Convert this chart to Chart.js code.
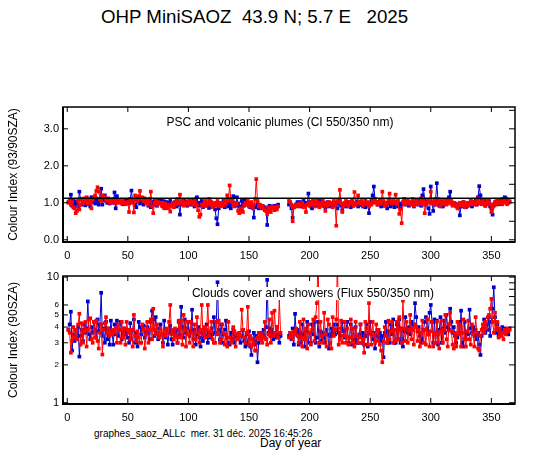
<!DOCTYPE html>
<html>
<head>
<meta charset="utf-8">
<script src="https://cdn.jsdelivr.net/npm/chart.js@4.4.1/dist/chart.umd.min.js"></script>
<style>
body { margin: 0; width: 547px; height: 455px; background: #fff; position: relative; overflow: hidden;
       font-family: "Liberation Sans", Arial, sans-serif; }
.txt { position: absolute; white-space: pre; color: #000; line-height: normal; }
.box { position: absolute; left: 0; width: 547px; }
</style>
</head>
<body>
<div class="txt" style="left:101px;top:6px;font-size:18.7px;">OHP MiniSAOZ  43.9 N; 5.7 E   2025</div>
<div class="box" style="top:95px;height:167px;"><canvas id="ciChart"></canvas></div>
<div class="box" style="top:264px;height:160px;"><canvas id="fluxChart"></canvas></div>
<div class="txt" style="left:94px;top:428px;font-size:10px;">graphes_saoz_ALLc  mer. 31 déc. 2025 16:45:26</div>
<div class="txt" style="left:260px;top:436px;font-size:12px;">Day of year</div>
<script>
// colour index 93/90 SZA, one value per day (null = no measurement)
var ciBlue = [
1.02,1.08,1.22,0.92,1.05,0.88,0.98,1.04,0.90,1.30,
1.10,0.95,1.02,1.08,0.93,1.12,0.97,1.05,0.90,1.15,
1.02,1.08,0.98,1.12,1.05,0.95,1.10,1.38,0.95,1.08,
1.20,1.05,1.00,1.10,0.98,1.04,1.08,1.00,1.28,0.85,
1.18,1.05,1.08,1.02,1.00,0.96,1.04,1.08,1.00,1.06,
0.98,1.10,1.33,1.02,1.08,0.95,0.88,1.04,1.10,0.98,
1.05,1.12,0.95,1.08,1.00,1.06,0.92,1.10,0.88,1.02,
0.95,1.05,1.00,0.92,1.06,1.02,0.98,1.08,0.90,1.04,
0.96,1.02,0.90,0.98,1.05,0.92,1.00,0.95,1.02,0.90,
1.05,0.95,0.68,1.02,0.96,1.08,0.98,1.04,0.92,1.00,
1.06,0.95,1.02,1.08,0.90,1.10,1.15,1.00,0.92,0.98,
1.05,0.88,0.95,1.02,0.92,0.98,0.86,1.04,0.95,0.90,
0.96,0.82,0.58,0.42,0.85,0.95,1.00,0.92,1.05,0.88,
0.96,1.02,0.90,1.00,0.85,0.95,1.18,1.00,0.92,1.15,
0.98,0.90,0.85,1.05,0.92,1.08,1.05,0.95,1.00,0.92,
0.88,0.98,0.95,0.60,0.92,0.88,1.00,0.85,0.92,0.88,
0.85,0.90,0.86,0.82,0.40,0.88,0.92,0.85,0.90,0.88,
0.92,0.86,0.90,0.95,
null,null,null,null,null,null,null,null,
0.95,1.00,0.85,0.60,0.88,0.92,0.96,1.02,
0.95,1.02,0.90,0.98,1.05,0.92,1.00,0.95,1.25,1.02,
0.90,0.85,1.08,0.95,1.00,0.92,1.08,0.95,0.98,1.05,
0.92,1.00,0.88,0.96,1.02,0.90,0.98,0.94,1.00,0.92,
0.96,1.00,0.85,0.98,1.05,0.92,0.80,0.95,1.00,0.90,
0.96,1.02,0.94,0.88,1.00,0.92,0.98,0.95,1.04,0.90,
0.98,1.02,0.94,0.90,1.00,0.88,0.96,1.00,0.72,0.96,
1.05,1.20,1.44,1.10,1.02,0.95,1.00,1.08,0.90,0.98,
0.92,1.00,0.95,0.85,0.98,1.05,0.90,0.96,1.00,0.88,
0.95,1.02,0.90,0.98,0.85,0.96,1.00,1.10,0.95,0.98,
1.04,0.92,1.00,0.96,1.02,0.90,0.98,1.06,0.95,1.00,
1.05,0.92,1.20,1.37,1.08,0.95,1.02,0.85,0.70,1.44,
1.00,0.78,0.95,1.10,1.53,1.05,0.92,0.98,1.02,0.90,
0.96,1.05,1.00,1.08,1.15,1.30,1.02,0.95,1.00,0.98,
0.92,0.96,0.88,0.66,0.90,0.98,1.02,0.95,0.88,0.92,
1.00,0.96,1.05,0.90,0.98,1.02,1.08,0.95,1.15,1.45,
1.20,1.05,0.98,1.08,0.92,1.00,0.96,1.05,0.90,0.85,
0.68,0.92,1.00,1.04,0.98,1.08,0.96,1.02,1.10,1.06,
1.15,1.12,1.05,1.00,1.04
];
var ciRed = [
1.00,1.05,0.95,1.02,0.88,0.85,0.72,0.78,1.05,0.82,
0.95,1.08,1.00,1.12,1.05,1.15,0.98,1.10,1.02,0.85,
1.08,1.15,1.20,1.32,1.42,1.30,1.10,1.05,1.20,1.18,
1.15,1.08,1.05,1.12,1.00,1.08,1.02,1.10,1.05,0.98,
1.05,1.00,1.08,1.02,0.98,1.05,1.00,0.96,0.98,1.02,
0.75,1.05,1.00,1.08,0.74,1.20,1.15,1.05,1.18,1.32,
1.10,1.15,1.05,1.12,1.00,1.08,0.95,1.02,1.30,0.90,
0.72,1.00,1.05,0.95,1.02,0.98,1.00,0.92,1.00,0.85,
0.98,0.90,0.85,0.95,0.76,0.92,1.00,0.88,0.95,1.05,
1.10,0.98,1.22,1.00,1.05,0.92,0.98,1.02,0.95,1.00,
1.08,0.98,1.02,0.95,1.05,1.00,0.92,0.80,0.62,0.68,
0.95,0.90,0.98,1.05,0.92,1.00,1.10,0.95,1.02,0.88,
0.95,1.00,0.92,1.05,0.98,0.90,1.00,0.96,0.92,1.05,
0.98,1.20,1.05,1.47,1.10,1.02,0.95,0.90,1.00,0.98,
0.78,0.72,0.85,0.80,0.75,0.92,1.00,0.95,1.05,0.90,
0.98,1.02,0.85,0.95,1.10,1.64,1.05,0.90,0.95,0.88,
0.92,0.85,0.80,0.78,0.70,0.88,0.82,0.75,0.90,0.86,
0.80,0.88,0.82,0.90,
null,null,null,null,null,null,null,null,
1.05,1.02,0.95,0.50,0.88,0.92,0.95,0.90,
0.98,0.92,0.95,1.00,0.88,0.92,0.75,0.95,1.00,0.92,
1.02,0.96,1.08,0.90,0.98,1.05,0.95,0.88,1.00,0.92,
1.05,0.96,0.78,1.00,0.92,1.02,0.96,1.00,0.88,1.05,
0.95,0.38,1.05,1.02,1.35,0.98,0.75,0.92,1.00,1.05,
0.95,0.90,1.02,0.98,1.08,0.92,1.29,1.00,0.95,1.20,
1.02,0.98,1.05,0.92,1.00,1.08,0.96,1.02,0.90,1.00,
0.95,1.05,1.00,1.08,1.02,0.95,1.00,1.05,0.98,1.30,
1.05,0.92,1.00,0.96,1.08,1.25,1.02,0.98,1.05,1.00,
1.22,0.96,1.05,0.70,0.82,0.45,1.02,1.08,0.96,1.00,
1.05,0.98,1.02,0.95,1.10,0.92,1.00,1.05,0.96,1.02,
1.00,1.12,0.96,1.05,0.72,0.95,1.02,1.08,1.00,1.30,
1.02,0.96,1.08,1.00,0.95,1.10,1.02,0.90,1.05,0.96,
1.00,1.08,0.95,1.02,1.10,0.98,1.05,0.92,1.00,0.96,
0.90,0.85,0.95,1.00,0.92,0.96,1.02,0.88,0.95,1.00,
0.92,0.98,1.05,0.96,1.02,1.00,0.95,1.05,1.12,0.98,
1.02,0.96,1.05,1.00,0.92,0.98,1.05,1.00,0.96,0.75,
0.88,0.96,1.02,0.95,1.05,1.00,0.98,1.04,0.96,1.02,
1.08,1.00,0.96,1.05,1.02
];
// flux ratio 550/350 nm at 90 SZA
var fluxBlue = [
3.8,4.2,5.3,2.6,3.5,3.1,3.8,3.2,4.0,2.33,
3.4,3.8,3.1,4.2,3.6,3.9,6.4,3.5,3.2,4.0,
3.6,4.4,3.8,3.3,4.6,3.7,4.2,7.5,3.4,3.9,
3.0,4.4,3.2,3.9,2.9,4.5,3.6,2.9,4.2,3.5,
4.5,3.4,3.8,4.4,3.2,3.6,3.9,3.5,3.7,3.3,
3.0,4.3,3.2,3.8,4.6,3.0,3.6,2.8,4.4,4.0,
3.5,3.8,4.1,3.3,3.7,4.0,3.6,3.2,4.4,5.4,
4.6,3.4,4.8,3.6,3.2,3.9,4.2,3.5,3.0,4.5,
3.3,3.8,2.9,3.6,4.1,3.2,2.9,3.7,3.4,3.8,
3.0,4.4,3.5,5.8,4.0,3.3,4.6,3.6,3.9,4.4,
3.4,3.7,5.5,3.2,3.8,2.9,3.5,4.0,3.3,2.8,
3.6,3.1,3.8,3.4,4.2,3.0,3.6,3.3,3.9,3.5,
4.8,3.6,4.4,9.1,3.8,3.2,4.2,3.0,3.5,3.8,
4.5,3.3,3.0,2.9,3.6,3.2,3.8,3.0,3.4,3.5,
3.2,3.6,3.0,3.4,3.8,3.1,2.8,3.5,2.9,3.7,
2.8,2.4,3.2,3.6,2.9,3.4,2.1,3.0,3.6,3.2,
3.5,3.8,3.3,4.0,9.5,3.6,3.9,3.4,3.8,3.2,
3.6,3.3,4.0,3.5,3.0,3.4,
null,null,null,null,null,null,
3.4,3.6,3.2,3.9,2.9,5.1,3.5,3.8,
2.9,3.6,3.0,4.2,3.5,2.8,3.7,4.4,3.0,3.6,
3.0,4.2,3.5,4.4,3.0,3.3,4.4,2.8,3.7,3.1,
3.6,3.3,3.0,3.8,3.5,2.7,3.4,3.9,3.6,4.2,
3.5,3.8,4.2,3.6,3.4,3.9,4.4,3.7,3.3,3.8,
4.4,3.0,3.3,4.2,2.9,3.9,3.2,4.0,3.0,3.0,
3.5,4.2,3.0,3.6,2.9,3.4,4.2,2.8,3.6,4.4,
3.5,3.2,3.6,2.7,3.4,3.8,3.3,3.6,3.1,3.4,
2.3,3.6,4.4,3.0,3.7,3.0,4.2,3.5,4.6,3.0,
3.0,4.2,3.2,4.6,3.0,3.9,2.8,3.7,4.8,3.8,
3.6,4.0,3.5,4.4,3.8,4.2,6.2,4.8,3.7,4.0,
3.4,3.0,3.2,3.8,4.4,4.8,3.9,3.5,5.2,6.0,
4.4,3.0,4.6,3.0,4.5,2.9,3.8,4.8,3.0,3.9,
4.5,3.6,5.0,4.0,3.8,5.6,4.4,3.6,4.0,3.4,
3.0,3.3,4.4,3.6,5.4,3.0,2.8,4.4,3.2,3.6,
3.5,5.5,3.9,3.6,4.0,3.4,3.8,3.2,3.6,2.9,
2.4,3.4,3.9,4.6,3.6,4.2,3.8,4.8,3.4,4.4,
5.6,8.3,4.8,3.6,4.2,3.4,3.8,3.6,4.0,3.7,
3.9,3.6,3.8,3.5,3.9
];
var fluxRed = [
3.8,3.6,2.5,3.1,4.0,3.3,3.8,3.2,4.2,5.1,
2.9,4.3,3.0,3.7,4.4,2.8,3.8,4.6,4.7,3.2,
3.0,4.4,3.3,4.5,3.1,2.7,3.6,4.2,2.42,3.8,
4.3,4.8,3.6,3.9,3.4,3.7,3.5,3.8,3.6,3.9,
3.0,4.2,3.8,3.0,4.4,3.3,3.9,2.9,4.4,3.8,
3.6,3.2,3.8,2.8,5.0,3.4,3.1,3.7,3.3,3.0,
3.0,4.2,3.8,2.7,3.5,4.4,3.0,3.8,4.6,3.2,
5.6,3.8,3.5,4.2,3.6,3.3,3.9,3.5,2.8,3.7,
3.4,3.9,3.6,4.4,6.0,3.5,3.8,3.2,3.9,3.4,
3.0,4.5,3.3,4.5,2.9,5.0,3.8,2.8,4.4,3.5,
3.0,4.4,3.6,2.8,4.2,3.2,4.8,3.6,3.0,3.8,
6.0,3.5,4.0,3.3,3.8,6.0,3.4,3.7,4.4,3.2,
3.0,3.0,4.4,3.5,4.5,3.0,3.2,4.2,3.6,2.9,
3.5,2.8,4.4,3.3,3.0,3.1,4.0,3.7,2.8,3.5,
3.2,3.6,3.4,5.5,3.8,3.3,3.0,3.6,5.8,2.9,
3.4,2.8,3.2,3.0,2.6,2.6,3.3,3.6,3.2,3.5,
3.0,3.3,4.4,3.2,2.9,3.5,4.6,3.0,5.2,3.4,
5.4,3.6,4.0,3.3,6.8,3.6,
null,null,null,null,null,null,
3.3,3.6,3.4,3.2,3.7,3.5,3.9,3.4,
3.0,4.4,3.3,2.8,4.6,3.2,3.9,2.7,4.2,3.6,
2.9,3.8,4.6,3.1,4.8,6.2,15.0,3.0,4.4,3.4,
3.0,5.2,3.5,2.8,4.6,4.2,3.0,2.7,4.8,3.4,
3.8,4.6,14.0,2.9,3.2,4.5,3.0,3.4,4.4,3.0,
3.9,2.9,3.3,4.6,3.0,3.9,2.8,4.4,3.4,3.0,
3.3,4.2,3.0,3.2,2.5,4.4,3.9,2.9,6.2,3.7,
2.9,4.4,3.5,3.0,4.2,3.1,3.8,2.9,2.6,2.1,
3.1,4.0,3.4,3.0,4.5,3.2,3.7,4.4,3.0,3.8,
3.1,4.4,3.2,4.8,3.8,3.0,6.5,3.9,3.1,4.4,
3.0,3.8,5.0,3.2,3.9,2.9,4.2,4.0,3.1,3.8,
2.8,3.6,4.5,3.0,3.8,2.9,4.6,3.5,2.8,3.7,
4.4,2.8,3.6,3.0,4.4,3.5,2.7,3.7,4.5,3.0,
3.8,5.0,3.2,2.8,4.2,5.2,3.7,2.9,2.7,3.6,
2.8,4.4,3.5,4.2,2.8,3.6,4.6,3.2,2.8,3.7,
4.5,3.2,2.9,4.2,3.5,2.8,4.8,3.6,2.7,2.6,
3.4,3.8,4.2,3.6,4.4,3.9,4.8,5.0,5.6,6.7,
4.4,3.6,5.2,3.8,4.4,3.3,3.9,3.4,3.6,3.2,
3.8,3.5,3.9,3.7,3.8
];

var dayTicks = [0, 50, 100, 150, 200, 250, 300, 350];
var ciTicks = [0, 1, 2, 3];
var ciMinor = [0, 0.5, 1, 1.5, 2, 2.5, 3, 3.5];
var ciRef = 1.12;
var fluxTicks = [1, 2, 3, 4, 5, 6, 10];
var fluxMinor = [1, 2, 3, 4, 5, 6, 7, 8, 9, 10];

var FONT = '"Liberation Sans", Arial, sans-serif';
var BLUE = '#0000cc', RED = '#ff0000';

function toXY(vals) {
    return vals.map(function (v, i) { return { x: i + 1, y: v }; });
}

function series(vals, color) {
    return {
        data: toXY(vals),
        borderColor: color,
        backgroundColor: color,
        borderWidth: 1,
        pointStyle: 'rect',
        pointRadius: 2.6,
        pointBorderWidth: 0,
        pointHoverRadius: 2.6,
        spanGaps: false
    };
}

// frame, inward ticks, reference line and boxed caption
var framePlugin = {
    id: 'frame',
    afterDatasetsDraw: function (chart, args, o) {
        var ctx = chart.ctx, a = chart.chartArea, x = chart.scales.x, y = chart.scales.y;
        ctx.save();
        ctx.strokeStyle = '#000';
        if (o.ref != null) {
            var ry = y.getPixelForValue(o.ref);
            ctx.lineWidth = 1.5;
            ctx.beginPath(); ctx.moveTo(a.left, ry); ctx.lineTo(a.right, ry); ctx.stroke();
        }
        ctx.font = '12px ' + FONT;
        var tw = ctx.measureText(o.label).width;
        var cx = (a.left + a.right) / 2 + o.labelDx, by = a.top + o.labelDy;
        ctx.fillStyle = '#fff';
        ctx.fillRect(cx - tw / 2 - 1, by - 10, tw + 2, 13);
        ctx.fillStyle = '#000';
        ctx.textAlign = 'center';
        ctx.textBaseline = 'alphabetic';
        ctx.fillText(o.label, cx, by);

        ctx.lineWidth = 1;
        ctx.beginPath();
        x.ticks.forEach(function (t) {
            var px = x.getPixelForValue(t.value);
            ctx.moveTo(px, a.bottom); ctx.lineTo(px, a.bottom - 6);
            ctx.moveTo(px, a.top); ctx.lineTo(px, a.top + 5);
        });
        y.ticks.forEach(function (t) {
            var py = y.getPixelForValue(t.value);
            ctx.moveTo(a.left, py); ctx.lineTo(a.left + 5, py);
        });
        o.minor.forEach(function (v) {
            var py = y.getPixelForValue(v);
            ctx.moveTo(a.right, py); ctx.lineTo(a.right - 6, py);
        });
        ctx.stroke();

        ctx.lineWidth = 1.5;
        ctx.strokeRect(a.left, a.top, a.right - a.left, a.bottom - a.top);
        ctx.lineWidth = 2;
        ctx.beginPath();
        ctx.moveTo(a.left, a.top); ctx.lineTo(a.left, a.bottom); ctx.lineTo(a.right, a.bottom);
        ctx.stroke();
        ctx.restore();
    }
};

function xAxis() {
    return {
        type: 'linear', min: -3.5, max: 369.5,
        afterBuildTicks: function (s) { s.ticks = dayTicks.map(function (v) { return { value: v }; }); },
        afterFit: function (s) { s.height = 20; },
        grid: { display: false, drawTicks: false },
        border: { display: false },
        ticks: { color: '#000', padding: 7, maxRotation: 0, font: { family: FONT, size: 11 } }
    };
}

Chart.defaults.animation = false;
Chart.defaults.font.family = FONT;

new Chart(document.getElementById('ciChart'), {
    type: 'line',
    data: { datasets: [series(ciRed, RED), series(ciBlue, BLUE)] },
    options: {
        responsive: true, maintainAspectRatio: false,
        layout: { padding: { left: 0, right: 32, top: 12, bottom: 0 } },
        plugins: {
            legend: { display: false }, tooltip: { enabled: false },
            frame: { ref: ciRef, minor: ciMinor, label: 'PSC and volcanic plumes (CI 550/350 nm)', labelDx: -9, labelDy: 19 }
        },
        scales: {
            x: xAxis(),
            y: {
                type: 'linear', min: -0.06, max: 3.59,
                afterBuildTicks: function (s) { s.ticks = ciTicks.map(function (v) { return { value: v }; }); },
                afterFit: function (s) { s.width = 63; },
                grid: { display: false, drawTicks: false },
                border: { display: false },
                ticks: { color: '#000', padding: 4, font: { family: FONT, size: 11 },
                         callback: function (v) { return v.toFixed(1); } },
                title: { display: true, text: 'Colour Index (93/90SZA)', color: '#000',
                         font: { family: FONT, size: 12 }, padding: { top: 6, bottom: 0 } }
            }
        }
    },
    plugins: [framePlugin]
});

new Chart(document.getElementById('fluxChart'), {
    type: 'line',
    data: { datasets: [series(fluxRed, RED), series(fluxBlue, BLUE)] },
    options: {
        responsive: true, maintainAspectRatio: false,
        layout: { padding: { left: 0, right: 32, top: 12, bottom: 0 } },
        plugins: {
            legend: { display: false }, tooltip: { enabled: false },
            frame: { ref: null, minor: fluxMinor, label: 'Clouds cover and showers (Flux 550/350 nm)', labelDx: 24, labelDy: 21 }
        },
        scales: {
            x: xAxis(),
            y: {
                type: 'logarithmic', min: 0.977, max: 10.2,
                afterBuildTicks: function (s) { s.ticks = fluxTicks.map(function (v) { return { value: v }; }); },
                afterFit: function (s) { s.width = 63; },
                grid: { display: false, drawTicks: false },
                border: { display: false },
                ticks: { color: '#000', padding: 4,
                         font: function (c) {
                             var v = c.tick ? c.tick.value : 1;
                             return { family: FONT, size: (v === 1 || v === 10) ? 11 : 8 };
                         },
                         callback: function (v) { return String(v); } },
                title: { display: true, text: 'Colour Index (90SZA)', color: '#000',
                         font: { family: FONT, size: 12 }, padding: { top: 6, bottom: 0 } }
            }
        }
    },
    plugins: [framePlugin]
});
</script>
</body>
</html>
